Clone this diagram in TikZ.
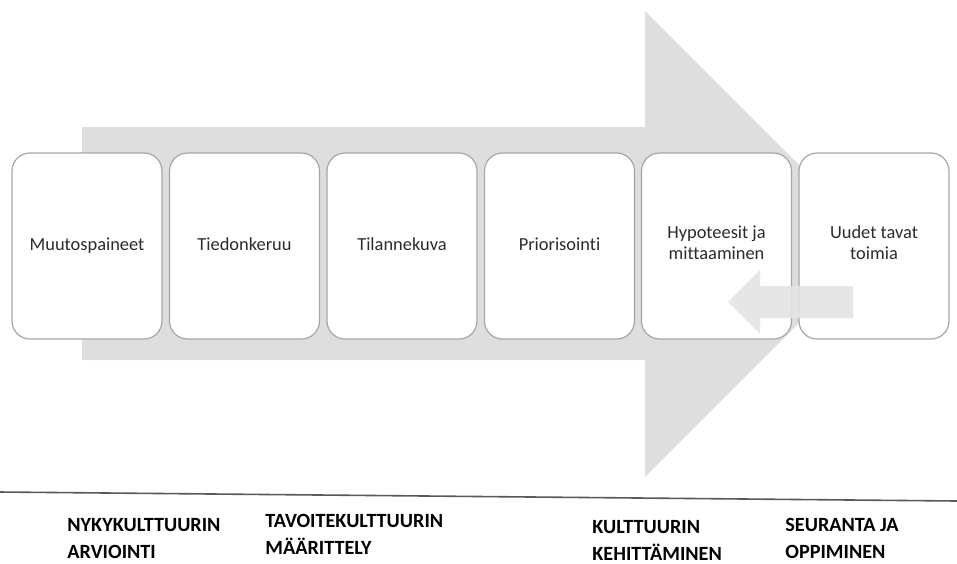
\documentclass[tikz,border=0pt]{standalone}
\usepackage{fontspec}
\setmainfont[Ligatures=NoCommon]{Carlito}
\usepackage{tikz}
\definecolor{arrowgray}{HTML}{DEDEDE}
\definecolor{backgray}{HTML}{E4E4E4}
\definecolor{boxline}{HTML}{A6A6A6}
\definecolor{textgray}{HTML}{2B2B2B}

\begin{document}
\begin{tikzpicture}[x=0.5pt, y=-0.5pt,
  stage/.style={draw=boxline, line width=0.6pt, fill=white, rounded corners=9pt,
                minimum width=75pt, minimum height=93pt, inner sep=2pt,
                align=center, text=textgray, font=\fontsize{9.2}{10.5}\selectfont,
                execute at begin node=\strut, execute at end node=\strut},
  phase/.style={anchor=base west, align=left, inner sep=0pt,
                font=\fontsize{10.1}{13.2}\selectfont\bfseries},
]
\useasboundingbox (0,0) rectangle (957,563);

% big process arrow
\fill[arrowgray] (82,127) -- (645,127) -- (645,11) -- (878,244) -- (645,477)
  -- (645,360) -- (82,360) -- cycle;

\node[stage] (b1) at (87,246) {Muutospaineet};
\node[stage] (b2) at (244.5,246) {Tiedonkeruu};
\node[stage] (b3) at (402,246) {Tilannekuva};
\node[stage] (b4) at (559.5,246) {Priorisointi};
\node[stage] (b5) at (716.5,246) {Hypoteesit ja\\mittaaminen};
\node[stage] (b6) at (874,246) {Uudet tavat\\toimia};

% feedback arrow
\fill[backgray, opacity=0.9] (853,286) -- (760,286) -- (760,270) -- (728,302)
  -- (760,334) -- (760,318) -- (853,318) -- cycle;

\draw[black!65, line width=0.8pt] (0,492) -- (957,501);

% anchored at the baseline of the second line
\node[phase] (l1) at (67,558) {NYKYKULTTUURIN\\ARVIOINTI};
\node[phase] (l2) at (265,554) {TAVOITEKULTTUURIN\\MÄÄRITTELY};
\node[phase] (l3) at (592,560) {KULTTUURIN\\KEHITTÄMINEN};
\node[phase] (l4) at (785,558) {SEURANTA JA\\OPPIMINEN};

\end{tikzpicture}
\end{document}
